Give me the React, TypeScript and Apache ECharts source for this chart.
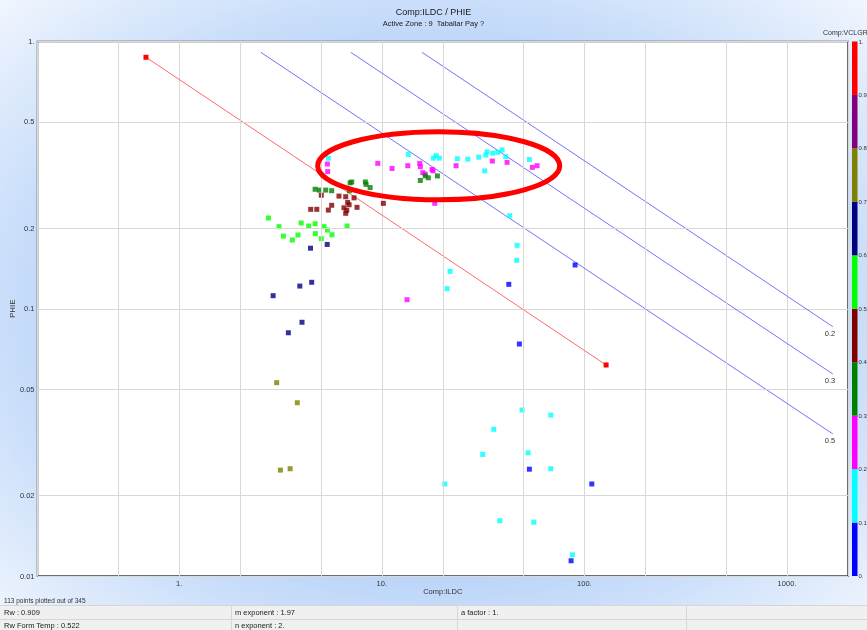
import React, { useEffect, useRef } from 'react';
import * as echarts from 'echarts';

const FONT = "'Liberation Sans Narrow', 'Liberation Sans', Arial, sans-serif";

// ---- colour scale (Comp:VCLGR) ----
const bandColors = ['#0000ff', '#00ffff', '#ff00ff', '#008000', '#800000', '#00ff00', '#000080', '#808000', '#800080', '#ff0000'];
const bandSize = [0.1, 0.1, 0.1, 0.1, 0.1, 0.1, 0.1, 0.1, 0.1, 0.1];

// ---- grid helper lines (non-decade) ----
const xMinorGrid = [0.5, 2, 5, 20, 50, 200, 500];
const yMinorGrid = [0.5, 0.2, 0.05, 0.02];
const yMinorLabels = ['0.5', '0.2', '0.05', '0.02'];

// ---- points [ILDC, PHIE] by VCLGR class ----
const ptsBlue = [[42.36, 0.1234], [47.77, 0.0738], [89.98, 0.1458], [53.52, 0.0251], [108.8, 0.0221], [85.98, 0.0114]];
const ptsCyan = [[5.45, 0.366], [13.53, 0.378], [17.98, 0.366], [18.54, 0.374], [19.25, 0.366], [23.61, 0.364], [26.58, 0.363], [30.12, 0.369], [32.61, 0.376], [33.09, 0.386], [35.31, 0.382], [37.37, 0.385], [39.25, 0.393], [40.93, 0.371], [53.52, 0.362], [32.24, 0.328], [42.83, 0.223], [46.54, 0.1727], [46.38, 0.1518], [21.73, 0.138], [21.01, 0.1189], [49.26, 0.0418], [68.27, 0.04], [35.71, 0.0354], [31.51, 0.0285], [52.73, 0.0289], [68.27, 0.0252], [20.46, 0.0221], [38.22, 0.0161], [56.27, 0.0159], [87.26, 0.012]];
const ptsMagenta = [[5.39, 0.348], [5.41, 0.326], [9.56, 0.35], [11.24, 0.335], [13.44, 0.343], [15.4, 0.35], [15.5, 0.34], [15.94, 0.323], [16.36, 0.319], [17.71, 0.332], [17.9, 0.328], [23.27, 0.343], [35.15, 0.357], [41.54, 0.353], [55.38, 0.338], [58.43, 0.343], [18.26, 0.248], [13.33, 0.1081]];
const ptsGreen = [[4.69, 0.28], [4.92, 0.278], [5.29, 0.278], [5.66, 0.2765], [6.98, 0.296], [7.11, 0.298], [8.3, 0.298], [8.37, 0.292], [8.76, 0.284], [6.92, 0.2765], [15.5, 0.302], [16.41, 0.314], [16.98, 0.309], [18.82, 0.314]];
const ptsMaroon = [[5.03, 0.266], [6.15, 0.264], [6.64, 0.2626], [7.3, 0.26], [6.79, 0.25], [6.9, 0.245], [5.66, 0.2438], [4.46, 0.2355], [4.78, 0.2355], [5.45, 0.234], [6.51, 0.2387], [6.72, 0.2335], [6.64, 0.2276], [7.55, 0.2396], [10.18, 0.248]];
const ptsLime = [[2.76, 0.2186], [3.11, 0.2028], [4.0, 0.2094], [4.36, 0.204], [4.69, 0.208], [5.19, 0.2028], [5.39, 0.197], [6.74, 0.204], [3.27, 0.187], [3.62, 0.1808], [3.86, 0.1888], [4.7, 0.191], [5.03, 0.1829], [5.68, 0.1892]];
const ptsNavy = [[4.45, 0.1685], [5.38, 0.174], [2.91, 0.1119], [3.94, 0.1216], [4.51, 0.1256], [4.04, 0.089], [3.46, 0.0813]];
const ptsOlive = [[3.03, 0.0529], [3.83, 0.0445], [3.16, 0.0249], [3.53, 0.0252]];
const ptsPurple: number[][] = [];
const ptsRed: number[][] = [];
const classPoints = [ptsBlue, ptsCyan, ptsMagenta, ptsGreen, ptsMaroon, ptsLime, ptsNavy, ptsOlive, ptsPurple, ptsRed];

// ---- Pickett lines (endpoints) ----
const waterLine = [[0.686, 0.873], [128, 0.0616]];
const swLines = [
  { sw: '0.2', pts: [[15.8, 0.911], [1683, 0.0857]] },
  { sw: '0.3', pts: [[7.03, 0.911], [1683, 0.057]] },
  { sw: '0.5', pts: [[2.53, 0.911], [1683, 0.034]] },
];

const isPow10 = (v: number) => Math.abs(Math.log10(v) - Math.round(Math.log10(v))) < 1e-6;

export default function App() {
  const ref = useRef<HTMLDivElement>(null);
  useEffect(() => {
    if (!ref.current) return;
    const chart = echarts.init(ref.current, undefined, { renderer: 'svg' });
    const gridColor = '#d8d8d8';
    const series: any[] = [];
    series.push({
      type: 'line',
      data: [],
      z: 0,
      silent: true,
      markLine: {
        silent: true,
        symbol: ['none', 'none'],
        animation: false,
        lineStyle: { color: gridColor, width: 1, type: 'solid' },
        label: { show: false },
        data: [
          ...xMinorGrid.map((v) => ({ xAxis: v, label: { show: false } })),
          ...yMinorGrid.map((v, i) => ({
            yAxis: v,
            label: { show: true, position: 'start', formatter: yMinorLabels[i], color: '#333', fontSize: 7.5, fontFamily: FONT, distance: 3 },
          })),
        ],
      },
    });
    series.push({
      type: 'line',
      data: waterLine,
      z: 2,
      symbol: 'rect',
      symbolSize: 5,
      showSymbol: true,
      itemStyle: { color: '#ff0000' },
      lineStyle: { color: '#ff6a6a', width: 1 },
      silent: true,
    });
    swLines.forEach((l) => {
      series.push({
        type: 'line',
        data: l.pts,
        z: 2,
        symbol: 'none',
        lineStyle: { color: '#7373ff', width: 1 },
        silent: true,
        endLabel: { show: true, formatter: l.sw, color: '#333', fontSize: 7.5, fontFamily: FONT, offset: [-16, 7] },
      });
    });
    classPoints.forEach((pts, i) => {
      series.push({
        type: 'scatter',
        data: pts,
        z: 3,
        symbol: 'rect',
        symbolSize: 5,
        itemStyle: { color: bandColors[i] },
        silent: true,
      });
    });
    bandSize.forEach((s, i) => {
      series.push({
        type: 'bar',
        xAxisIndex: 1,
        yAxisIndex: 1,
        stack: 'cb',
        data: [s],
        barWidth: '100%',
        barCategoryGap: 0,
        itemStyle: { color: bandColors[i] },
        silent: true,
      });
    });

    chart.setOption({
      animation: false,
      textStyle: { fontFamily: FONT },
      title: {
        text: 'Comp:ILDC / PHIE',
        subtext: 'Active Zone : 9  Taballar Pay ?',
        left: 'center',
        top: 2,
        itemGap: 3,
        textStyle: { fontSize: 9, fontWeight: 'normal', color: '#1a1a1a', fontFamily: FONT },
        subtextStyle: { fontSize: 7.5, color: '#1a1a1a', fontFamily: FONT },
      },
      grid: [
        { left: 37.5, top: 41.5, width: 810.5, height: 534.5, show: true, backgroundColor: '#ffffff', borderColor: '#3c3c3c', borderWidth: 1.5, containLabel: false, outerBoundsMode: 'none' },
        { left: 852, top: 41.5, width: 5.5, height: 534.5, show: false, containLabel: false, outerBoundsMode: 'none' },
      ],
      xAxis: [
        {
          type: 'log',
          logBase: 10,
          min: 0.2,
          max: 2000,
          gridIndex: 0,
          name: 'Comp:ILDC',
          nameLocation: 'middle',
          nameGap: 11,
          nameMoveOverlap: false,
          nameTextStyle: { fontSize: 7.5, color: '#333', fontFamily: FONT },
          axisLine: { show: false },
          axisTick: { show: false },
          splitLine: { show: true, lineStyle: { color: gridColor, width: 1 } },
          axisLabel: {
            fontSize: 7.5,
            color: '#333',
            margin: 3,
            fontFamily: FONT,
            formatter: (v: number) => (isPow10(v) ? String(Math.round(v)) + '.' : ''),
          },
        },
        { type: 'category', gridIndex: 1, data: ['VCLGR'], show: false, boundaryGap: true },
      ],
      yAxis: [
        {
          type: 'log',
          logBase: 10,
          min: 0.01,
          max: 1,
          gridIndex: 0,
          name: 'PHIE',
          nameLocation: 'middle',
          nameGap: 21,
          nameMoveOverlap: false,
          nameTextStyle: { fontSize: 8, color: '#333', fontFamily: FONT },
          axisLine: { show: false },
          axisTick: { show: false },
          splitLine: { show: true, lineStyle: { color: gridColor, width: 1 } },
          axisLabel: {
            fontSize: 7.5,
            color: '#333',
            margin: 3,
            fontFamily: FONT,
            formatter: (v: number) => {
              if (!isPow10(v)) return '';
              const e = Math.round(Math.log10(v));
              if (e >= 0) return String(Math.round(v)) + '.';
              return v.toFixed(-e);
            },
          },
        },
        {
          type: 'value',
          gridIndex: 1,
          min: 0,
          max: 1,
          interval: 0.1,
          position: 'right',
          axisLine: { show: false },
          axisTick: { show: false },
          splitLine: { show: false },
          axisLabel: {
            fontSize: 6,
            color: '#333',
            margin: 1,
            fontFamily: FONT,
            formatter: (v: number) => (v <= 0 ? '0.' : v >= 1 ? '1.' : v.toFixed(1)),
          },
        },
      ],
      series,
      graphic: [
        { type: 'text', left: 823, top: 29, style: { text: 'Comp:VCLGR', fontSize: 7, fill: '#333', fontFamily: FONT } },
        {
          type: 'ellipse',
          z: 100,
          shape: { cx: 438.7, cy: 165.8, rx: 121, ry: 34 },
          style: { fill: 'none', stroke: '#ff0000', lineWidth: 5 },
          silent: true,
        },
        { type: 'text', left: 4, top: 597, style: { text: '113 points plotted out of 345', fontSize: 6.5, fill: '#333', fontFamily: FONT } },
        { type: 'rect', shape: { x: 0, y: 605, width: 867, height: 25 }, style: { fill: '#f0f0f0' }, silent: true },
        { type: 'line', shape: { x1: 0, y1: 605.5, x2: 867, y2: 605.5 }, style: { stroke: '#d6d6d6', lineWidth: 1 }, silent: true },
        { type: 'line', shape: { x1: 0, y1: 619.5, x2: 867, y2: 619.5 }, style: { stroke: '#d6d6d6', lineWidth: 1 }, silent: true },
        { type: 'line', shape: { x1: 231.5, y1: 605, x2: 231.5, y2: 630 }, style: { stroke: '#d6d6d6', lineWidth: 1 }, silent: true },
        { type: 'line', shape: { x1: 457.5, y1: 605, x2: 457.5, y2: 630 }, style: { stroke: '#d6d6d6', lineWidth: 1 }, silent: true },
        { type: 'line', shape: { x1: 686.5, y1: 605, x2: 686.5, y2: 630 }, style: { stroke: '#d6d6d6', lineWidth: 1 }, silent: true },
        { type: 'text', left: 4, top: 608, style: { text: 'Rw : 0.909', fontSize: 7.5, fill: '#222', fontFamily: FONT } },
        { type: 'text', left: 235, top: 608, style: { text: 'm exponent : 1.97', fontSize: 7.5, fill: '#222', fontFamily: FONT } },
        { type: 'text', left: 461, top: 608, style: { text: 'a factor : 1.', fontSize: 7.5, fill: '#222', fontFamily: FONT } },
        { type: 'text', left: 4, top: 621, style: { text: 'Rw Form Temp : 0.522', fontSize: 7.5, fill: '#222', fontFamily: FONT } },
        { type: 'text', left: 235, top: 621, style: { text: 'n exponent : 2.', fontSize: 7.5, fill: '#222', fontFamily: FONT } },
      ],
    });
    return () => chart.dispose();
  }, []);

  return (
    <div
      style={{
        position: 'fixed',
        left: 0,
        top: 0,
        width: 867,
        height: 630,
        background: 'radial-gradient(ellipse closest-corner at 50% 50%, #a7c7f4 0%, #b6d2f8 55%, #f1f6fe 100%)',
      }}
    >
      <div ref={ref} style={{ width: 867, height: 630 }} />
    </div>
  );
}
